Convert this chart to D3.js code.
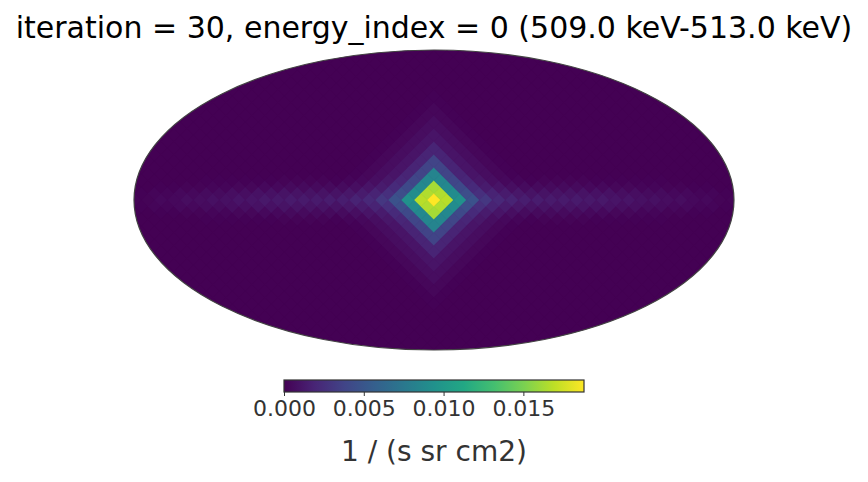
<!DOCTYPE html>
<html><head><meta charset="utf-8">
<script src="https://cdn.jsdelivr.net/npm/d3@7.9.0/dist/d3.min.js"></script>
<style>body{margin:0;background:#fff}svg{display:block;font-family:"DejaVu Sans",sans-serif}</style>
</head><body><svg id="chart" width="868" height="482"></svg>
<script>
// point source strength by diamond ring (0 = centre pixel)
const sourceRing = [0.0188, 0.0160, 0.0085, 0.0038, 0.0019, 0.0010, 0.0006, 0.0003, 0.0001];
// galactic plane brightness by longitude bin (from centre outwards, 4 columns per bin)
const planeLon = [0.0008, 0.0009, 0.0011, 0.0012, 0.0013, 0.0013, 0.0012, 0.0010, 0.0008, 0.0006, 0.0004, 0.0002];
// vertical fall-off of the plane by row from equator
const planeLat = [1.0, 0.7, 0.35, 0.12, 0];
const vmax = 0.0188;
const cbTicks = [0, 0.005, 0.010, 0.015];

const svg = d3.select('#chart');
const cx = 434, cy = 200, rx = 300, ry = 150, h = 6.5;
const color = d3.scaleSequential(d3.interpolateViridis).domain([0, vmax]);

svg.append('text').attr('x', 434).attr('y', 38).attr('text-anchor', 'middle')
  .attr('font-size', 30).text('iteration = 30, energy_index = 0 (509.0 keV-513.0 keV)');

svg.append('clipPath').attr('id', 'ell').append('ellipse')
  .attr('cx', cx).attr('cy', cy).attr('rx', rx).attr('ry', ry);

const cells = [];
for (let a = -48; a <= 48; a++) {
  for (let b = -24; b <= 24; b++) {
    if ((a + b) % 2 !== 0) continue;
    const ring = (Math.abs(a) + Math.abs(b)) / 2;
    let v = ring < sourceRing.length ? sourceRing[ring] : 0;
    const li = Math.floor(Math.abs(a) / 4), bi = Math.abs(b);
    if (li < planeLon.length && bi < planeLat.length) v += planeLon[li] * planeLat[bi];
    cells.push({a, b, v});
  }
}
const g = svg.append('g').attr('clip-path', 'url(#ell)');
g.append('ellipse').attr('cx', cx).attr('cy', cy).attr('rx', rx).attr('ry', ry).attr('fill', color(0));
g.selectAll('path').data(cells).join('path')
  .attr('d', d => {
    const x = cx + d.a * h, y = cy + d.b * h;
    return `M${x},${y - h - 0.3}L${x + h + 0.3},${y}L${x},${y + h + 0.3}L${x - h - 0.3},${y}Z`;
  })
  .attr('fill', d => color(d.v));
svg.append('ellipse').attr('cx', cx).attr('cy', cy).attr('rx', rx).attr('ry', ry)
  .attr('fill', 'none').attr('stroke', '#444').attr('stroke-width', 1.2);

// colorbar
const cbx = d3.scaleLinear().domain([0, vmax]).range([284, 584]);
const grad = svg.append('defs').append('linearGradient').attr('id', 'cb');
d3.range(0, 1.001, 0.1).forEach(t => grad.append('stop').attr('offset', t).attr('stop-color', d3.interpolateViridis(t)));
svg.append('rect').attr('x', 284).attr('y', 380).attr('width', 300).attr('height', 12)
  .attr('fill', 'url(#cb)').attr('stroke', '#333').attr('stroke-width', 1.2);
const ax = svg.append('g').attr('transform', 'translate(0,392)')
  .call(d3.axisBottom(cbx).tickValues(cbTicks).tickFormat(d3.format('.3f')).tickSize(4));
ax.select('.domain').remove();
ax.selectAll('line').attr('stroke', '#333');
ax.selectAll('text').attr('font-size', 22).attr('fill', '#333').attr('dy', '0.75em').attr('font-family', '"DejaVu Sans",sans-serif');
svg.append('text').attr('x', 434).attr('y', 461).attr('text-anchor', 'middle')
  .attr('font-size', 28).attr('fill', '#333').text('1 / (s sr cm2)');
</script></body></html>
